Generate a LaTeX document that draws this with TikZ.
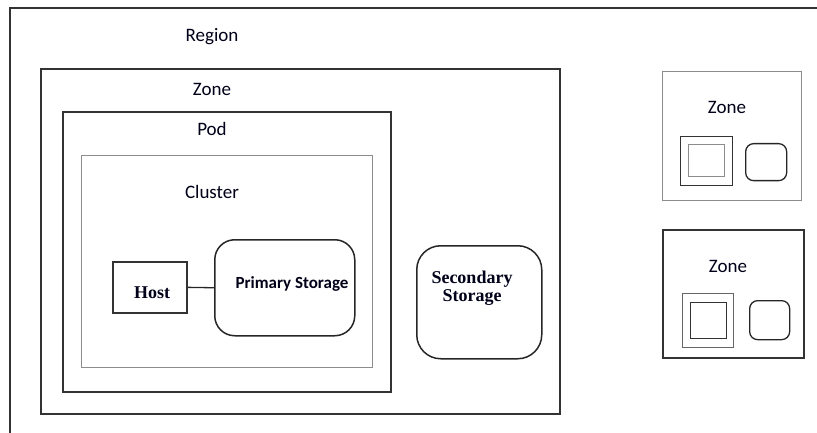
\documentclass[tikz,border=0pt]{standalone}
\usepackage{fontspec}
\setmainfont{Carlito}
\newfontfamily\timesfont{Liberation Serif}
\usetikzlibrary{positioning}

\tikzset{
  box/.style={draw=black!80, line width=1.7pt, inner sep=0pt, anchor=north west},
  greybox/.style={draw=black!45, line width=1.4pt, inner sep=0pt, anchor=north west},
  store/.style={draw=black!85, line width=1.5pt, inner sep=0pt, anchor=north west, rounded corners=20pt},
  minibox/.style={draw=black!85, line width=1.3pt, inner sep=0pt, anchor=north west, rounded corners=8pt},
  title/.style={font=\fontsize{19}{22}\selectfont, text=black!90!blue},
  boldsans/.style={font=\fontsize{17}{20}\selectfont\bfseries, text=black!90!blue},
  boldserif/.style={font=\fontsize{18}{20}\selectfont\timesfont\bfseries, text=black!90!blue, align=center},
}

\begin{document}
\begin{tikzpicture}[x=1pt, y=-1pt]
\useasboundingbox (0,0) rectangle (817,433);

% region frame, open at the right and bottom
\coordinate (regionbl) at (10,433);
\coordinate (regiontr) at (817,8);
\draw[black!80, line width=1.8pt] (regionbl) |- (regiontr);
\node[title] (regionlbl) at (212,37) {Region};

% main zone
\node[box, minimum width=519, minimum height=345] (zone) at (40,68) {};
\node[title] (zonelbl) at (212,89) {Zone};
\node[box, minimum width=328, minimum height=280] (pod) at (62,111) {};
\node[title] (podlbl) at (212,129) {Pod};
\node[greybox, minimum width=291, minimum height=212] (cluster) at (81,155) {};
\node[title] (clusterlbl) at (212,192) {Cluster};

\node[box, minimum width=74, minimum height=51] (host) at (112,261) {};
\node[boldserif] (hostlbl) at (152,293) {Host};
\node[store, minimum width=140, minimum height=96] (primary) at (214,239) {};
\node[boldsans] (primarylbl) at (292,284) {Primary Storage};
\draw[black!85, line width=1.3pt] (host.east) -- (primary.west);

\node[store, rounded corners=24pt, minimum width=125, minimum height=113] (secondary) at (416,245) {};
\node[boldserif] (secondarylbl) at (472,288) {Secondary\\[-2pt]Storage};

% other zones
\node[greybox, minimum width=139, minimum height=129] (zoneA) at (662,71) {};
\node[title] (zoneAlbl) at (727,107) {Zone};
\node[box, line width=1.4pt, minimum width=52, minimum height=49] (podA) at (680,136) {};
\node[greybox, minimum width=36, minimum height=32] (clusterA) at (688,144) {};
\node[minibox, minimum width=41, minimum height=37] (storeA) at (745,143) {};

\node[box, minimum width=141, minimum height=128] (zoneB) at (662,229) {};
\node[title] (zoneBlbl) at (728,266) {Zone};
\node[greybox, draw=black!60, minimum width=51, minimum height=54] (podB) at (682,293) {};
\node[box, line width=1.4pt, minimum width=36, minimum height=36] (clusterB) at (690,302) {};
\node[minibox, minimum width=40, minimum height=39] (storeB) at (749,300) {};
\end{tikzpicture}
\end{document}
